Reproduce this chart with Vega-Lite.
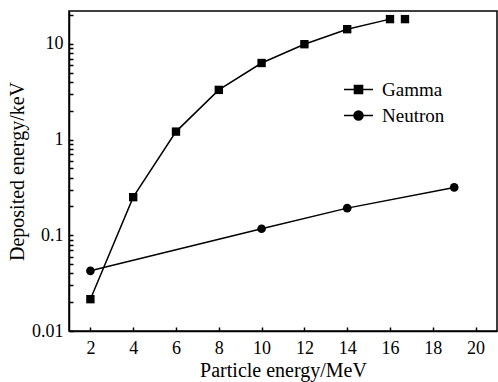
{
  "$schema": "https://vega.github.io/schema/vega-lite/v6.json",
  "autosize": "none",
  "width": 428,
  "height": 320,
  "padding": {"left": 69, "top": 11, "right": 1, "bottom": 51},
  "background": "white",
  "config": {
    "view": {"stroke": "black", "strokeWidth": 1.5},
    "font": "Liberation Serif",
    "axis": {
      "labelFont": "Liberation Serif",
      "titleFont": "Liberation Serif",
      "labelFontSize": 18,
      "titleFontSize": 20,
      "titleFontWeight": "normal",
      "labelColor": "black",
      "titleColor": "black",
      "domainColor": "black",
      "domainWidth": 1.5,
      "tickColor": "black",
      "tickWidth": 1.5,
      "grid": false
    }
  },
  "data": {
    "values": [
      {"series": "Gamma", "energy": 2, "dep": 0.0215, "conn": true},
      {"series": "Gamma", "energy": 4, "dep": 0.25, "conn": true},
      {"series": "Gamma", "energy": 6, "dep": 1.21, "conn": true},
      {"series": "Gamma", "energy": 8, "dep": 3.3, "conn": true},
      {"series": "Gamma", "energy": 10, "dep": 6.3, "conn": true},
      {"series": "Gamma", "energy": 12, "dep": 9.9, "conn": true},
      {"series": "Gamma", "energy": 14, "dep": 14.2, "conn": true},
      {"series": "Gamma", "energy": 16, "dep": 18.1, "conn": true},
      {"series": "Gamma", "energy": 16.7, "dep": 18.1, "conn": false},
      {"series": "Neutron", "energy": 2, "dep": 0.0425, "conn": true},
      {"series": "Neutron", "energy": 10, "dep": 0.117, "conn": true},
      {"series": "Neutron", "energy": 14, "dep": 0.192, "conn": true},
      {"series": "Neutron", "energy": 19, "dep": 0.316, "conn": true}
    ]
  },
  "encoding": {
    "x": {
      "field": "energy",
      "type": "quantitative",
      "scale": {"domain": [1, 21], "nice": false, "zero": false},
      "axis": {
        "title": "Particle energy/MeV",
        "values": [2, 4, 6, 8, 10, 12, 14, 16, 18, 20],
        "tickSize": -4,
        "labelPadding": 12,
        "titlePadding": 3
      }
    },
    "y": {
      "field": "dep",
      "type": "quantitative",
      "scale": {"type": "log", "domain": [0.01, 22], "nice": false},
      "axis": {
        "title": "Deposited energy/keV",
        "values": [0.01, 0.02, 0.03, 0.04, 0.05, 0.06, 0.07, 0.08, 0.09, 0.1, 0.2, 0.3, 0.4, 0.5, 0.6, 0.7, 0.8, 0.9, 1, 2, 3, 4, 5, 6, 7, 8, 9, 10, 20],
        "format": "~g",
        "labelExpr": "indexof([0.01, 0.1, 1, 10], datum.value) >= 0 ? datum.label : ''",
        "tickSize": -4,
        "labelPadding": 10,
        "titlePadding": 4
      }
    }
  },
  "layer": [
    {
      "transform": [{"filter": "datum.conn"}],
      "mark": {"type": "line", "color": "black", "strokeWidth": 1.5},
      "encoding": {"detail": {"field": "series"}}
    },
    {
      "transform": [{"filter": "datum.series === 'Gamma'"}],
      "mark": {"type": "point", "shape": "square", "filled": true, "color": "black", "opacity": 1, "size": 70}
    },
    {
      "transform": [{"filter": "datum.series === 'Neutron'"}],
      "mark": {"type": "point", "shape": "circle", "filled": true, "color": "black", "opacity": 1, "size": 75}
    },
    {
      "mark": {"type": "point", "filled": false, "color": "black", "opacity": 0, "size": 1},
      "encoding": {
        "shape": {
          "field": "series",
          "type": "nominal",
          "scale": {
            "domain": ["Gamma", "Neutron"],
            "range": [
              "M-1,0H1M-0.28,-0.28H0.28V0.28H-0.28ZM-0.28,-0.2H0.28M-0.28,-0.1H0.28M-0.28,0.1H0.28M-0.28,0.2H0.28",
              "M-1,0H1M0.31,0A0.31,0.31 0 1,1 -0.31,0A0.31,0.31 0 1,1 0.31,0ZM-0.293,-0.1H0.293M-0.293,0.1H0.293M-0.237,-0.2H0.237M-0.237,0.2H0.237M-0.169,-0.26H0.169M-0.169,0.26H0.169"
            ]
          },
          "legend": {
            "orient": "none",
            "legendX": 274,
            "legendY": 63,
            "title": null,
            "padding": 0,
            "rowPadding": 0,
            "symbolSize": 841,
            "symbolStrokeColor": "black",
            "symbolStrokeWidth": 1.5,
            "symbolOpacity": 1,
            "labelFont": "Liberation Serif",
            "labelFontSize": 19,
            "labelColor": "black",
            "labelOffset": 8
          }
        }
      }
    }
  ]
}
